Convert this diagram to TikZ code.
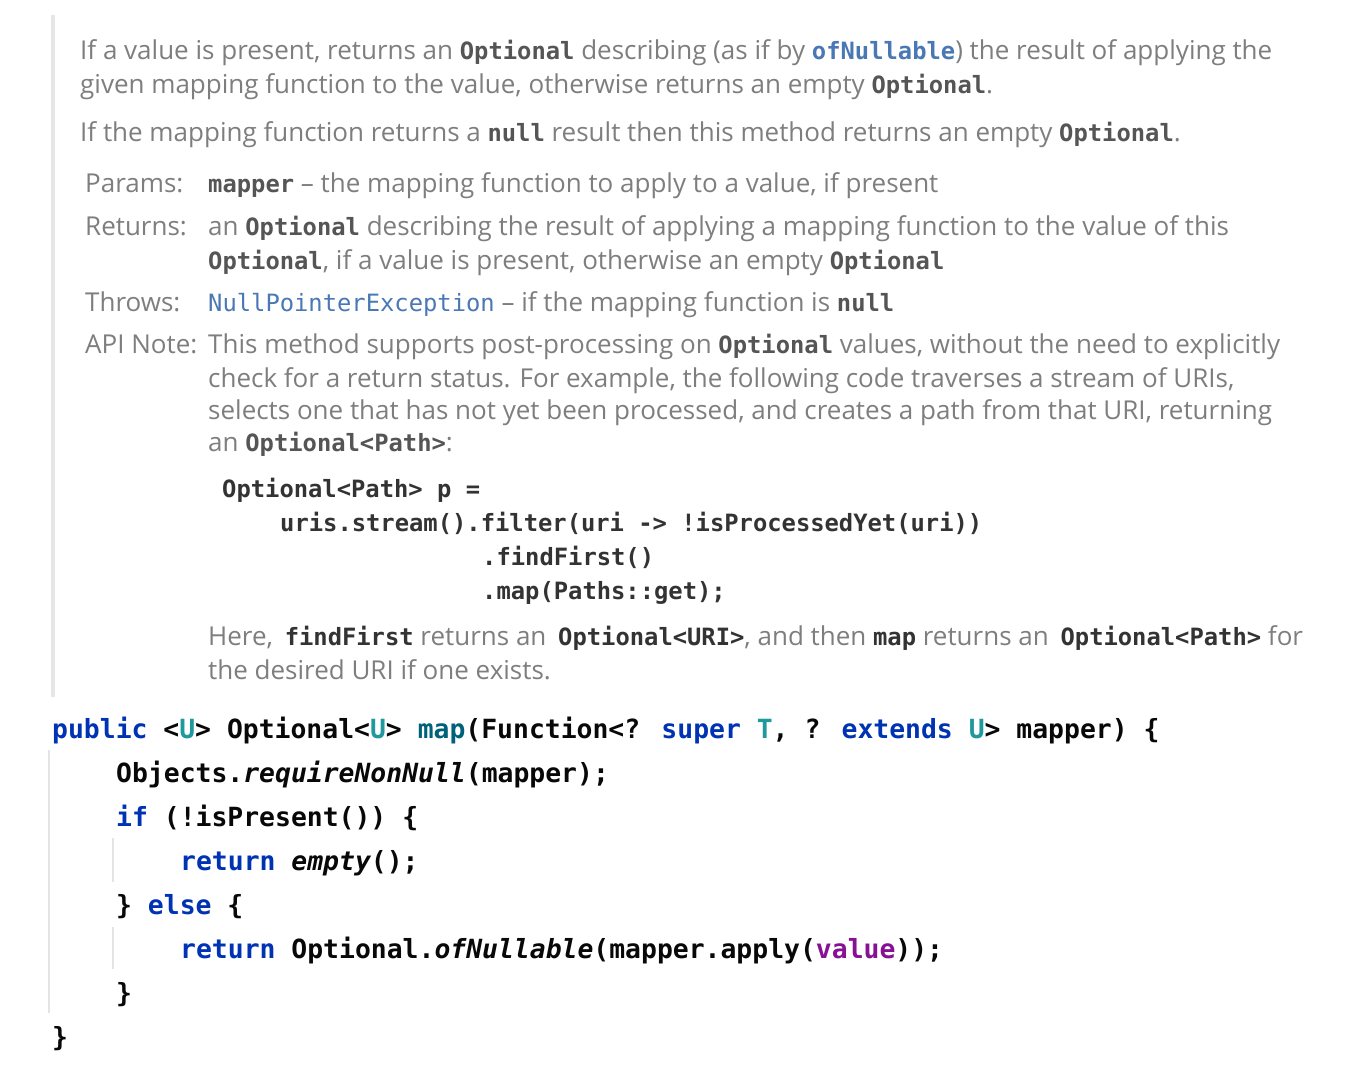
\documentclass[tikz,border=0pt]{standalone}
\usepackage{fontspec}
\setmainfont{Open Sans}
\newfontfamily\monofam{DejaVu Sans Mono}
\definecolor{docgray}{HTML}{7E7E7E}
\definecolor{inlinegray}{HTML}{555555}
\definecolor{darkcode}{HTML}{333333}
\definecolor{linkblue}{HTML}{4A78B4}
\definecolor{codeblack}{HTML}{080808}
\definecolor{kwblue}{HTML}{0033B3}
\definecolor{tparam}{HTML}{20999D}
\definecolor{mdecl}{HTML}{00627A}
\definecolor{fieldpurple}{HTML}{871094}
\definecolor{barcol}{HTML}{E6E6E6}
\definecolor{guidecol}{HTML}{E4E4E4}
\newcommand{\ic}[1]{{\monofam\bfseries\fontsize{23.8}{28}\selectfont\color{inlinegray}#1}}
\newcommand{\dc}[1]{{\monofam\bfseries\fontsize{23.8}{28}\selectfont\color{darkcode}#1}}
\newcommand{\lnk}[1]{{\monofam\fontsize{23.8}{28}\selectfont\color{linkblue}#1}}
\newcommand{\lnkb}[1]{{\monofam\bfseries\fontsize{23.8}{28}\selectfont\color{linkblue}#1}}
\newcommand{\kw}[1]{{\color{kwblue}#1}}
\newcommand{\tp}[1]{{\color{tparam}#1}}
\newcommand{\mth}[1]{{\color{mdecl}#1}}
\newcommand{\fld}[1]{{\color{fieldpurple}#1}}
\newcommand{\stat}[1]{{\itshape #1}}
\begin{document}
\begin{tikzpicture}[x=1pt,y=-1pt,
    doc/.style={anchor=base west,inner sep=0pt,text=docgray,font=\fontsize{26}{30}\selectfont},
    tag/.style={doc},
    sample/.style={anchor=base west,inner sep=0pt,text=darkcode,font=\monofam\bfseries\fontsize{23.8}{28}\selectfont},
    code/.style={anchor=base west,inner sep=0pt,text=codeblack,font=\monofam\bfseries\fontsize{26.4}{30}\selectfont},
    guide/.style={draw=guidecol,line width=1.5pt}]

    \fill[white] (0,0) rectangle (1356,1072);
    \useasboundingbox (0,0) rectangle (1356,1072);

    \fill[barcol] (51,15) rectangle (55,697);

    \node[doc] (d1) at (80,59) {If a value is present, returns an \ic{Optional} describing (as if by \lnkb{ofNullable}) the result of applying the};
    \node[doc] (d2) at (80,93) {given mapping function to the value, otherwise returns an empty \ic{Optional}.};
    \node[doc] (d3) at (80,141) {If the mapping function returns a \ic{null} result then this method returns an empty \ic{Optional}.};

    \node[tag] (params) at (85,192) {Params:};
    \node[doc] (p1) at (208,192) {\ic{mapper} – the mapping function to apply to a value, if present};
    \node[tag] (returns) at (85,235) {Returns:};
    \node[doc] (r1) at (208,235) {an \ic{Optional} describing the result of applying a mapping function to the value of this};
    \node[doc] (r2) at (208,269) {\ic{Optional}, if a value is present, otherwise an empty \ic{Optional}};
    \node[tag] (throws) at (85,311) {Throws:};
    \node[doc] (t1) at (208,311) {\lnk{NullPointerException} – if the mapping function is \ic{null}};
    \node[tag] (apinote) at (85,353) {API Note:};
    \node[doc] (a1) at (208,353) {This method supports post-processing on \ic{Optional} values, without the need to explicitly};
    \node[doc] (a2) at (208,387) {check for a return status. For example, the following code traverses a stream of URIs,};
    \node[doc] (a3) at (208,419) {selects one that has not yet been processed, and creates a path from that URI, returning};
    \node[doc] (a4) at (208,451) {an \ic{Optional<Path>}:};

    \node[sample] (s1) at (222,497) {Optional<Path> p =};
    \node[sample] (s2) at (280,531) {uris.stream().filter(uri -> !isProcessedYet(uri))};
    \node[sample] (s3) at (482,565) {.findFirst()};
    \node[sample] (s4) at (482,599) {.map(Paths::get);};

    \node[doc] (h1) at (208,645) {Here, \hspace{5pt}\dc{findFirst} returns an \hspace{5pt}\dc{Optional<URI>}, and then \dc{map} returns an \hspace{5pt}\dc{Optional<Path>} for};
    \node[doc] (h2) at (208,679) {the desired URI if one exists.};

    \node[code] (c1) at (52,738) {\kw{public} <\tp{U}> Optional<\tp{U}> \mth{map}(Function<? \kw{super} \tp{T}, ? \kw{extends} \tp{U}> mapper) \{};
    \node[code] (c2) at (116,782) {Objects.\stat{requireNonNull}(mapper);};
    \node[code] (c3) at (116,826) {\kw{if} (!isPresent()) \{};
    \node[code] (c4) at (180,870) {\kw{return} \stat{empty}();};
    \node[code] (c5) at (116,914) {\} \kw{else} \{};
    \node[code] (c6) at (180,958) {\kw{return} Optional.\stat{ofNullable}(mapper.apply(\fld{value}));};
    \node[code] (c7) at (116,1002) {\}};
    \node[code] (c8) at (52,1046) {\}};

    \draw[guide] (49,750) -- (49,1013);
    \draw[guide] (113,838) -- (113,882);
    \draw[guide] (113,927) -- (113,969);

\end{tikzpicture}
\end{document}
